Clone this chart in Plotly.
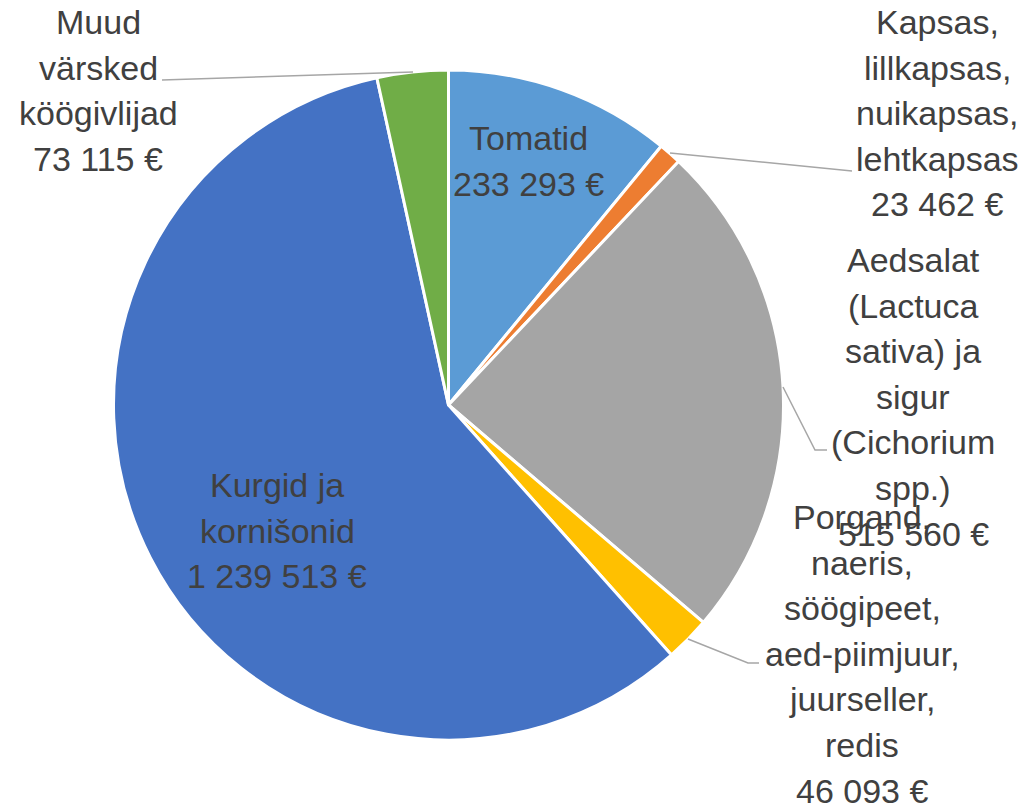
import plotly.graph_objects as go

labels = ["Tomatid", "Kapsas, lillkapsas, nuikapsas, lehtkapsas",
          "Aedsalat (Lactuca sativa) ja sigur (Cichorium spp.)",
          "Porgand, naeris, söögipeet, aed-piimjuur, juurseller, redis",
          "Kurgid ja kornišonid", "Muud värsked köögivlijad"]
values = [233293, 23462, 515560, 46093, 1239513, 73115]
colors = ["#5B9BD5", "#ED7D31", "#A5A5A5", "#FFC000", "#4472C4", "#70AD47"]
label_lines = [
    ["Tomatid"],
    ["Kapsas,", "lillkapsas,", "nuikapsas,", "lehtkapsas"],
    ["Aedsalat", "(Lactuca", "sativa) ja", "sigur", "(Cichorium", "spp.)"],
    ["Porgand,", "naeris,", "söögipeet,", "aed-piimjuur,", "juurseller,", "redis"],
    ["Kurgid ja", "kornišonid"],
    ["Muud", "värsked", "köögivlijad"],
]

W, H = 1023, 805


def fmt(v):
    return f"{v:,}".replace(",", " ") + " €"


fig = go.Figure(go.Pie(
    labels=labels, values=values, sort=False, direction="clockwise", rotation=0,
    marker=dict(colors=colors, line=dict(color="white", width=3)),
    textinfo="none", hoverinfo="label+value", showlegend=False,
    domain=dict(x=[113.5 / W, 783.5 / W], y=[(H - 740) / H, (H - 70) / H]),
))

# label anchors: centre x and first-line centre y (pixels)
label_pos = [(528, 138), (937, 22), (913, 260), (862, 517), (277, 485), (98, 22)]
LINE_H = 45.6
FONT = dict(family="Liberation Sans, Arial, sans-serif", size=34, color="#404040")
for lines, v, (px, py) in zip(label_lines, values, label_pos):
    for i, ln in enumerate(lines + [fmt(v)]):
        y = py + i * LINE_H
        fig.add_annotation(x=px / W, y=1 - y / H, xref="paper", yref="paper",
                           text=ln, showarrow=False, font=FONT,
                           xanchor="center", yanchor="middle", align="center")

# leader lines (pixel paths)
leaders = [
    [(670, 153), (852, 171)],
    [(783, 387), (815, 450), (827, 450)],
    [(688, 639), (748, 663), (759, 663)],
    [(413, 72), (162, 80)],
]
for pts in leaders:
    path = "M " + " L ".join(f"{x / W},{1 - y / H}" for x, y in pts)
    fig.add_shape(type="path", path=path, xref="paper", yref="paper",
                  line=dict(color="#A6A6A6", width=1.5))

fig.update_layout(width=W, height=H, margin=dict(l=0, r=0, t=0, b=0),
                  paper_bgcolor="white", plot_bgcolor="white")
fig.write_html("out.html", config={"displayModeBar": False},
               post_script="document.body.style.margin='0';")
